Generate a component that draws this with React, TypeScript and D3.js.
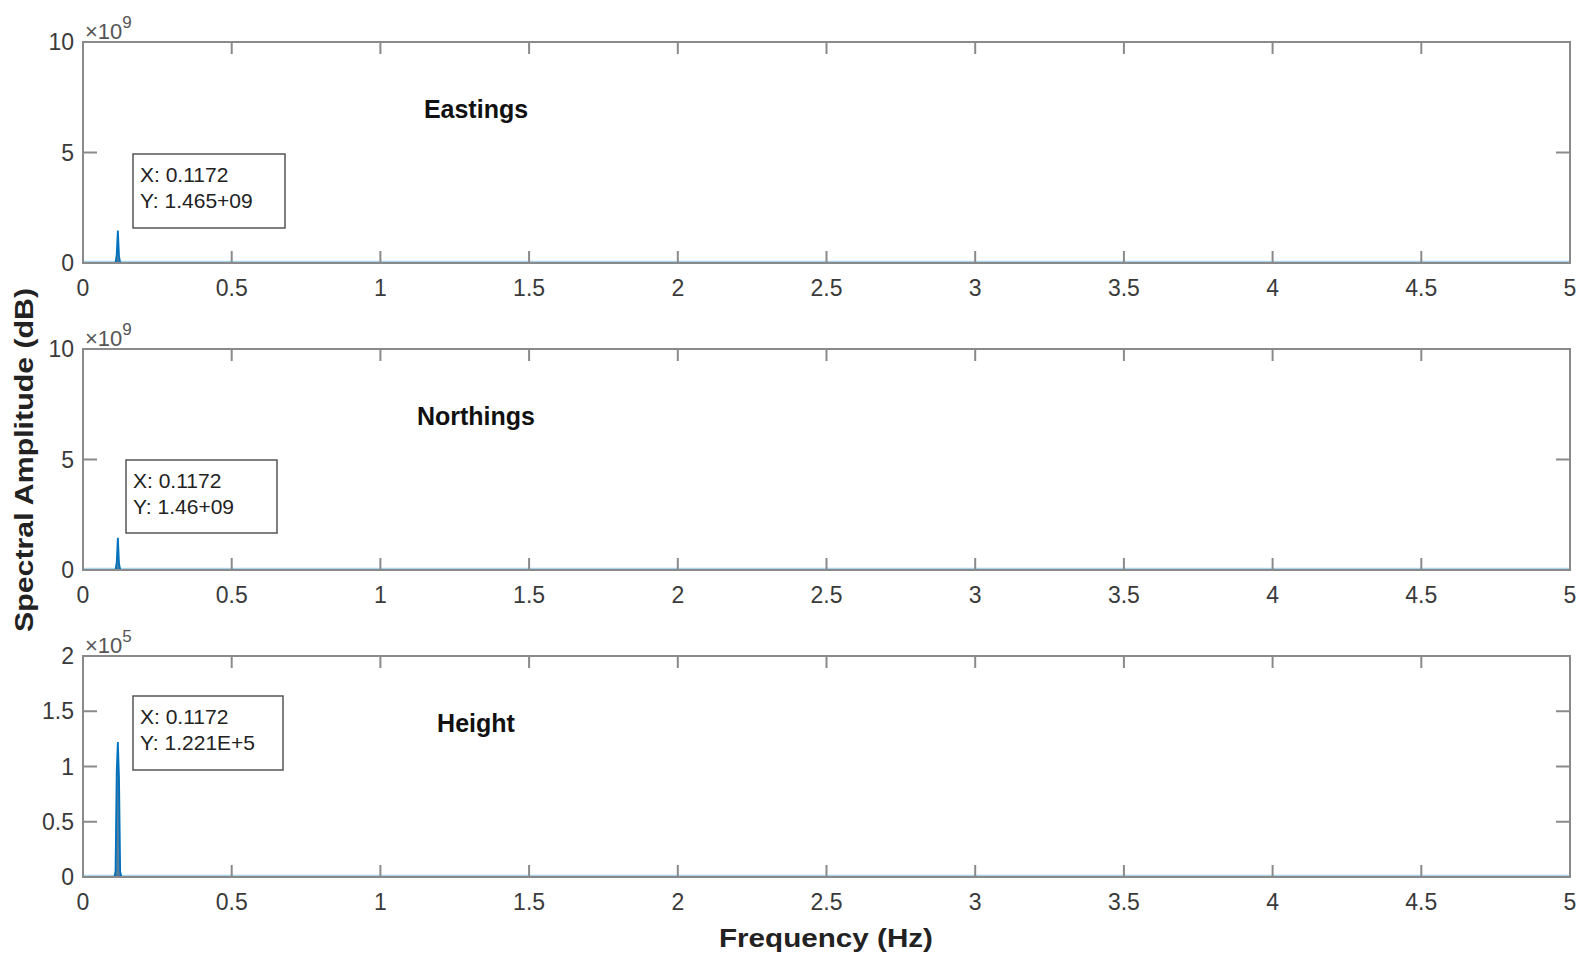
import React, { useEffect, useRef } from "react";
import * as d3 from "d3";

const W = 1585;
const H = 960;

const freqs = [0, 0.1055, 0.1094, 0.1133, 0.1172, 0.1211, 0.125, 0.1289, 5];
const eastings = [0, 0, 0.02e9, 0.35e9, 1.465e9, 0.3e9, 0.02e9, 0, 0];
const northings = [0, 0, 0.02e9, 0.33e9, 1.46e9, 0.3e9, 0.02e9, 0, 0];
const heights = [0, 0, 0.05e5, 0.95e5, 1.221e5, 0.9e5, 0.05e5, 0, 0];

const xTicks = [0, 0.5, 1, 1.5, 2, 2.5, 3, 3.5, 4, 4.5, 5];
const titles = ["Eastings", "Northings", "Height"];
const yMaxes = [10e9, 10e9, 2e5];
const yTickSets = [[0, 5e9, 10e9], [0, 5e9, 10e9], [0, 0.5e5, 1e5, 1.5e5, 2e5]];
const exponents = [9, 9, 5];
const tipX = ["X: 0.1172", "X: 0.1172", "X: 0.1172"];
const tipY = ["Y: 1.465+09", "Y: 1.46+09", "Y: 1.221E+5"];
const tipBoxes = [
  { x: 133, y: 154, w: 152, h: 74 },
  { x: 126, y: 460, w: 151, h: 73 },
  { x: 133, y: 696, w: 150, h: 74 },
];

const panelTops = [42, 349, 656];
const panelH = 221;
const left = 83;
const right = 1570;

export default function App() {
  const ref = useRef<SVGSVGElement>(null);
  useEffect(() => {
    const svg = d3.select(ref.current);
    svg.selectAll("*").remove();
    const font = "'Liberation Sans', Arial, sans-serif";
    const axisColor = "#8a8a8a";
    const textColor = "#3a3a3a";
    const series = [eastings, northings, heights];

    const x = d3.scaleLinear().domain([0, 5]).range([left, right]);

    series.forEach((vals, i) => {
      const top = panelTops[i];
      const bottom = top + panelH;
      const y = d3.scaleLinear().domain([0, yMaxes[i]]).range([bottom, top]);
      const g = svg.append("g");
      const div = Math.pow(10, exponents[i]);

      g.append("line")
        .attr("x1", x(0)).attr("x2", x(5))
        .attr("y1", y(0) - 1.5).attr("y2", y(0) - 1.5)
        .attr("stroke", "#a9d6ee").attr("stroke-width", 1.5);

      // filled spike + line
      const area = d3
        .area<number>()
        .x((_, k) => x(freqs[k]))
        .y0(y(0))
        .y1((d) => y(d));
      g.append("path")
        .datum(vals)
        .attr("d", area)
        .attr("fill", "#2a5f86")
        .attr("opacity", 0.8);
      const line = d3
        .line<number>()
        .x((_, k) => x(freqs[k]))
        .y((d) => y(d));
      g.append("path")
        .datum(vals)
        .attr("d", line)
        .attr("fill", "none")
        .attr("stroke", "#0072BD")
        .attr("stroke-width", 1.8);

      // box
      g.append("rect")
        .attr("x", left).attr("y", top)
        .attr("width", right - left).attr("height", panelH)
        .attr("fill", "none").attr("stroke", axisColor).attr("stroke-width", 2);

      // x ticks
      xTicks.forEach((t) => {
        const px = x(t);
        g.append("line").attr("x1", px).attr("x2", px).attr("y1", bottom).attr("y2", bottom - 12)
          .attr("stroke", axisColor).attr("stroke-width", 2);
        g.append("line").attr("x1", px).attr("x2", px).attr("y1", top).attr("y2", top + 12)
          .attr("stroke", axisColor).attr("stroke-width", 2);
        g.append("text").attr("x", px).attr("y", bottom + 33)
          .attr("text-anchor", "middle").attr("font-family", font).attr("font-size", 23)
          .attr("fill", textColor).text(String(t));
      });

      // y ticks
      yTickSets[i].forEach((t) => {
        const py = y(t);
        g.append("line").attr("x1", left).attr("x2", left + 14).attr("y1", py).attr("y2", py)
          .attr("stroke", axisColor).attr("stroke-width", 2);
        g.append("line").attr("x1", right).attr("x2", right - 14).attr("y1", py).attr("y2", py)
          .attr("stroke", axisColor).attr("stroke-width", 2);
        g.append("text").attr("x", left - 9).attr("y", py + 8)
          .attr("text-anchor", "end").attr("font-family", font).attr("font-size", 23)
          .attr("fill", textColor).text(String(+(t / div).toFixed(2)));
      });

      // exponent label
      const ex = g.append("text").attr("x", left + 2).attr("y", top - 3)
        .attr("font-family", font).attr("font-size", 22).attr("fill", "#555");
      ex.append("tspan").text("×10");
      ex.append("tspan").attr("dy", -11).attr("font-size", 17).text(String(exponents[i]));

      // title
      g.append("text").attr("x", 476).attr("y", top + 76)
        .attr("text-anchor", "middle").attr("font-family", font).attr("font-size", 25)
        .attr("font-weight", "bold").attr("fill", "#111").text(titles[i]);

      // data tip
      const b = tipBoxes[i];
      g.append("rect").attr("x", b.x).attr("y", b.y).attr("width", b.w).attr("height", b.h)
        .attr("fill", "#fff").attr("stroke", "#555").attr("stroke-width", 1.5);
      g.append("text").attr("x", b.x + 7).attr("y", b.y + 28)
        .attr("font-family", font).attr("font-size", 21).attr("fill", "#222").text(tipX[i]);
      g.append("text").attr("x", b.x + 7).attr("y", b.y + 54)
        .attr("font-family", font).attr("font-size", 21).attr("fill", "#222").text(tipY[i]);
    });

    // axis labels
    svg.append("text").attr("x", 826).attr("y", 947)
      .attr("text-anchor", "middle").attr("font-family", font).attr("font-size", 25)
      .attr("font-weight", "bold").attr("fill", "#222")
      .attr("textLength", 214).attr("lengthAdjust", "spacingAndGlyphs")
      .text("Frequency (Hz)");
    svg.append("text")
      .attr("transform", "translate(33,460) rotate(-90)")
      .attr("text-anchor", "middle").attr("font-family", font).attr("font-size", 25)
      .attr("font-weight", "bold").attr("fill", "#222")
      .attr("textLength", 344).attr("lengthAdjust", "spacingAndGlyphs")
      .text("Spectral Amplitude (dB)");
  }, []);

  return (
    <svg
      ref={ref}
      width={W}
      height={H}
      style={{ position: "absolute", left: 0, top: 0, background: "#fff", display: "block" }}
    />
  );
}
